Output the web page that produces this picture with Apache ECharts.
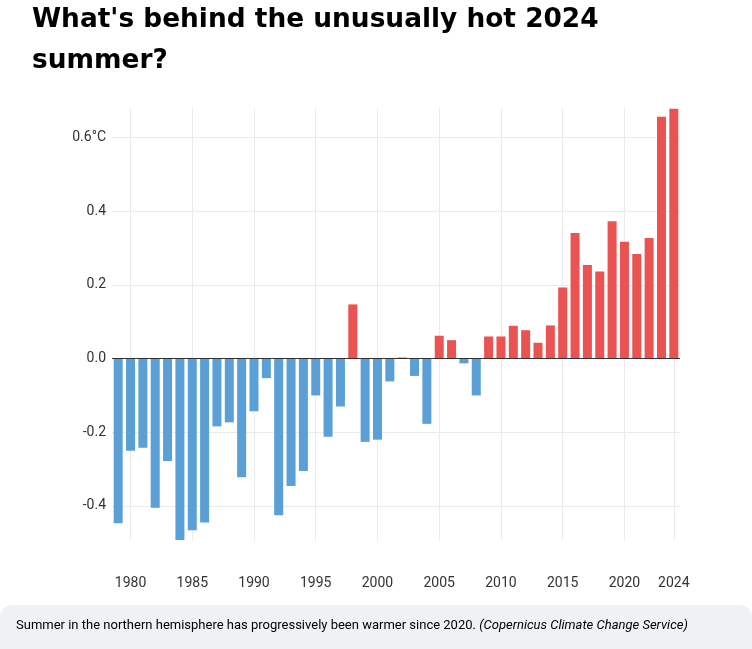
<!DOCTYPE html>
<html>
<head>
<meta charset="utf-8">
<script src="https://cdn.jsdelivr.net/npm/echarts@6/dist/echarts.min.js"></script>
<style>
html,body{margin:0;padding:0;background:#fff;}
#chart{width:752px;height:649px;}
</style>
</head>
<body>
<div id="chart"></div>
<script>
const years = [1979,1980,1981,1982,1983,1984,1985,1986,1987,1988,1989,1990,1991,1992,1993,1994,1995,1996,1997,1998,1999,2000,2001,2002,2003,2004,2005,2006,2007,2008,2009,2010,2011,2012,2013,2014,2015,2016,2017,2018,2019,2020,2021,2022,2023,2024];
const anomalies = [-0.447,-0.25,-0.242,-0.405,-0.278,-0.492,-0.466,-0.445,-0.184,-0.173,-0.322,-0.143,-0.053,-0.425,-0.346,-0.305,-0.10,-0.212,-0.13,0.147,-0.226,-0.22,-0.062,0.003,-0.047,-0.177,0.062,0.05,-0.013,-0.10,0.06,0.06,0.089,0.077,0.043,0.09,0.193,0.341,0.254,0.236,0.373,0.317,0.284,0.327,0.656,0.678];
const xTicks = [1980,1985,1990,1995,2000,2005,2010,2015,2020,2024];
const yTicks = [-0.4,-0.2,0,0.2,0.4,0.6];
const yTickLabels = ['-0.4','-0.2','0.0','0.2','0.4','0.6°C'];

const warm = '#ea5352';
const cool = '#5a9fd5';
const font = 'Roboto';

const chart = echarts.init(document.getElementById('chart'));
chart.setOption({
  animation: false,
  title: {
    text: "What's behind the unusually hot 2024\nsummer?",
    left: 32, top: 0, padding: 0,
    textStyle: {fontFamily: "'DejaVu Sans'", fontSize: 26.4, fontWeight: 'bold', color: '#000', lineHeight: 41}
  },
  grid: {left: 112, right: 72, top: 108, bottom: 108},
  xAxis: {
    type: 'value', min: 1978.5, max: 2024.5,
    axisLine: {show: false}, axisTick: {show: false, customValues: xTicks},
    axisLabel: {customValues: xTicks, margin: 35, fontFamily: font, fontSize: 14, color: '#333', formatter: v => String(v)},
    splitLine: {show: true, lineStyle: {color: '#ebebeb', width: 1}}
  },
  yAxis: {
    type: 'value', min: -0.495, max: 0.68,
    axisLine: {show: false}, axisTick: {show: false, customValues: yTicks},
    axisLabel: {customValues: yTicks, margin: 6, fontFamily: font, fontSize: 14, color: '#333',
      formatter: v => { const i = yTicks.findIndex(t => Math.abs(t - v) < 1e-6); return i >= 0 ? yTickLabels[i] : ''; }},
    splitLine: {show: true, lineStyle: {color: '#ebebeb', width: 1}}
  },
  series: [{
    type: 'bar',
    barWidth: 9,
    data: years.map((y, i) => [y, anomalies[i]]),
    itemStyle: {color: p => p.value[1] >= 0 ? warm : cool},
    markLine: {
      silent: true, symbol: 'none', label: {show: false},
      lineStyle: {color: '#333', width: 1, type: 'solid'},
      data: [{yAxis: 0}]
    }
  }],
  graphic: [
    {type: 'rect', left: 0, top: 605, shape: {x: 0, y: 0, width: 752, height: 60, r: 12}, style: {fill: '#f0f1f3'}},
    {type: 'text', left: 16, top: 619, style: {
      text: '{n|Summer in the northern hemisphere has progressively been warmer since 2020. }{i|(Copernicus Climate Change Service)}',
      rich: {
        n: {fontFamily: 'Roboto', fontSize: 13, color: '#333'},
        i: {fontFamily: 'Roboto', fontSize: 13, color: '#333', fontStyle: 'italic'}
      }
    }}
  ]
});
</script>
</body>
</html>
